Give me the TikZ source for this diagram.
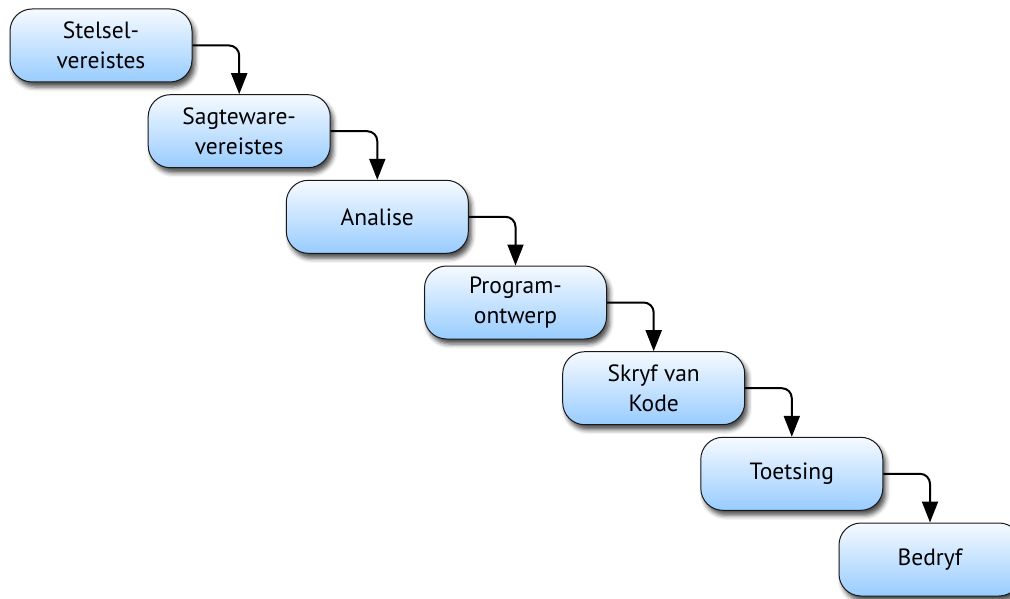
\documentclass[tikz,border=0pt]{standalone}
\usepackage{fontspec}
\setmainfont{PT Sans}
\usetikzlibrary{arrows.meta,shadows.blur}

\definecolor{boxtop}{RGB}{246,250,255}
\definecolor{boxbottom}{RGB}{152,204,255}
\definecolor{boxline}{RGB}{25,25,25}

\tikzset{
  phase/.style={
    draw=boxline, line width=1pt,
    rounded corners=22pt,
    minimum width=182pt, minimum height=73pt,
    top color=boxtop, bottom color=boxbottom,
    align=center, inner sep=0pt,
    font=\fontsize{23.5}{30}\selectfont,
    blur shadow={shadow xshift=3pt, shadow yshift=-5pt,
                 shadow blur radius=4.5pt, shadow opacity=70}
  },
  flow/.style={
    draw=black, line width=2pt, rounded corners=10pt,
    -{Triangle[length=21pt,width=16pt]}
  }
}

\begin{document}
\begin{tikzpicture}[x=1pt,y=1pt]
  \useasboundingbox (0,0) rectangle (1010,-599);

  % waterfall stages, stepping down to the right
  \node[phase] (s1) at (101.0, -45.5)  {Stelsel-\\vereistes};
  \node[phase] (s2) at (239.2, -131.2) {Sagteware-\\vereistes};
  \node[phase] (s3) at (377.3, -216.8) {Analise};
  \node[phase] (s4) at (515.5, -302.5) {Program-\\ontwerp};
  \node[phase] (s5) at (653.7, -388.2) {Skryf van\\Kode};
  \node[phase] (s6) at (791.8, -473.8) {Toetsing};
  \node[phase] (s7) at (930.0, -559.5) {Bedryf};

  % connectors: out of the right side, down into the next stage
  \draw[flow] (s1.east) -| (s2.north);
  \draw[flow] (s2.east) -| (s3.north);
  \draw[flow] (s3.east) -| (s4.north);
  \draw[flow] (s4.east) -| (s5.north);
  \draw[flow] (s5.east) -| (s6.north);
  \draw[flow] (s6.east) -| (s7.north);
\end{tikzpicture}
\end{document}
